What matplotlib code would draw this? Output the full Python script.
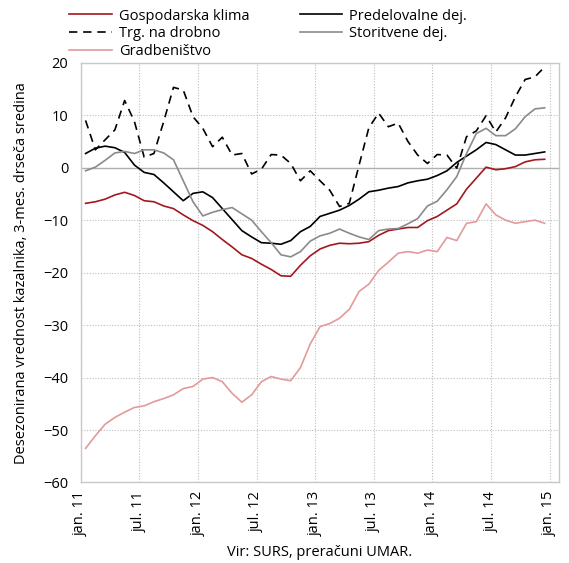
import numpy as np
import matplotlib
matplotlib.use("Agg")
import matplotlib.pyplot as plt

plt.rcParams['font.family'] = ['Open Sans', 'DejaVu Sans']

tick_labels = ["jan. 11", "jul. 11", "jan. 12", "jul. 12", "jan. 13",
               "jul. 13", "jan. 14", "jul. 14", "jan. 15"]

gospodarska = [-6.8, -6.5, -6.0, -5.2, -4.7, -5.3, -6.3, -6.5, -7.3, -7.8, -9.0, -10.1,
               -11.0, -12.2, -13.7, -15.1, -16.6, -17.3, -18.4, -19.4, -20.6, -20.7, -18.6, -16.8,
               -15.5, -14.8, -14.4, -14.5, -14.4, -14.1, -12.9, -12.0, -11.7, -11.4, -11.4, -10.1,
               -9.3, -8.1, -6.9, -4.1, -2.0, 0.1, -0.4, -0.2, 0.2, 1.1, 1.5, 1.6]
predelovalne = [2.7, 3.7, 4.1, 3.8, 2.9, 0.5, -0.9, -1.3, -2.9, -4.6, -6.3, -4.9,
                -4.6, -5.7, -7.8, -9.9, -12.0, -13.2, -14.3, -14.4, -14.6, -13.9, -12.2, -11.2,
                -9.3, -8.7, -8.1, -7.2, -6.0, -4.6, -4.3, -3.9, -3.6, -2.9, -2.5, -2.2,
                -1.5, -0.6, 1.0, 2.2, 3.4, 4.8, 4.4, 3.4, 2.4, 2.4, 2.7, 3.0]
trg_drobno = [9.0, 3.4, 5.3, 7.2, 12.8, 8.8, 2.0, 2.7, 8.8, 15.3, 14.8, 9.7,
              7.5, 4.0, 5.8, 2.4, 2.7, -1.2, -0.3, 2.5, 2.4, 0.8, -2.5, -0.6,
              -2.5, -4.3, -7.4, -6.8, 0.5, 7.6, 10.4, 7.8, 8.5, 5.0, 2.4, 0.8,
              2.5, 2.4, -0.1, 5.9, 7.0, 9.9, 6.8, 9.5, 13.5, 16.8, 17.3, 19.2]
storitvene = [-0.6, 0.1, 1.4, 2.8, 3.1, 2.7, 3.4, 3.4, 2.8, 1.5, -2.5, -6.5,
              -9.2, -8.5, -8.0, -7.6, -8.8, -10.0, -12.2, -14.3, -16.6, -17.0, -16.0, -14.0,
              -13.0, -12.5, -11.7, -12.5, -13.2, -13.7, -12.0, -11.7, -11.6, -10.7, -9.7, -7.3,
              -6.4, -4.2, -1.7, 2.7, 6.5, 7.5, 6.1, 6.1, 7.4, 9.7, 11.2, 11.4]
gradbenistvo = [-53.5, -51.1, -48.9, -47.6, -46.6, -45.7, -45.4, -44.6, -44.0, -43.3, -42.1, -41.7,
                -40.3, -40.0, -40.8, -43.0, -44.7, -43.3, -40.8, -39.8, -40.3, -40.6, -38.1, -33.6,
                -30.3, -29.7, -28.7, -27.0, -23.6, -22.2, -19.6, -18.0, -16.3, -16.0, -16.3, -15.7,
                -16.0, -13.3, -13.9, -10.6, -10.3, -6.9, -9.0, -10.0, -10.6, -10.3, -10.0, -10.6]

fig = plt.figure(figsize=(5.69, 5.63), dpi=100)
ax = fig.add_axes([0.1418, 0.143, 0.983 - 0.1418, 0.8886 - 0.143])

x = np.arange(len(gospodarska)) + 0.5
lw = 1.2
l1, = ax.plot(x, gospodarska, color='#A3171E', lw=lw, label='Gospodarska klima')
l2, = ax.plot(x, trg_drobno, color='black', lw=lw, ls=(0, (5, 3.5)), label='Trg. na drobno')
l3, = ax.plot(x, gradbenistvo, color='#E39A9A', lw=lw, label='Gradbeništvo')
l4, = ax.plot(x, predelovalne, color='black', lw=lw, label='Predelovalne dej.')
l5, = ax.plot(x, storitvene, color='#8A8A8A', lw=lw, label='Storitvene dej.')

ax.set_xlim(0, 49)
ax.set_ylim(-60, 20)
ax.set_yticks(np.arange(-60, 21, 10))
ax.set_xticks(np.arange(0, 49, 6))
ax.set_xticklabels(tick_labels, rotation=90, fontsize=10.5)
ax.tick_params(axis='y', labelsize=10.5, length=0, pad=9)
ax.tick_params(axis='x', length=0, pad=6)

ax.grid(True, color='#BDBDBD', ls=(0, (1, 1.5)), lw=0.8)
ax.axhline(0, color='#B0B0B0', lw=1.0, zorder=1)
for s in ax.spines.values():
    s.set_color('#C8C8C8')
    s.set_linewidth(1.0)
ax.set_axisbelow(True)

ax.set_ylabel('Desezonirana vrednost kazalnika, 3-mes. drseča sredina', fontsize=10.5, labelpad=10)
ax.set_xlabel('Vir: SURS, preračuni UMAR.', fontsize=10.5, labelpad=6)

fig.legend(handles=[l1, l2, l3, l4, l5], loc='upper left', bbox_to_anchor=(0.104, 1.003),
           ncol=2, frameon=False, fontsize=10.5, handlelength=2.9, handletextpad=0.5,
           columnspacing=3.45, labelspacing=0.2, borderpad=0.2)

fig.savefig('out.png', dpi=100)
